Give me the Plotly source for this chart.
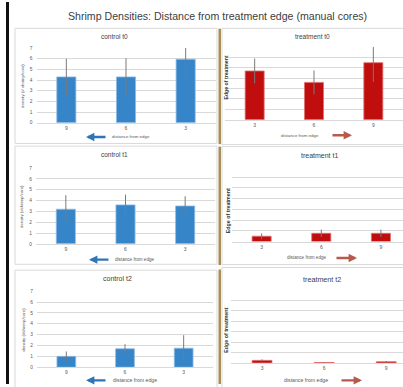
import plotly.graph_objects as go

W, H = 403, 387

# distance categories (cm from the treatment edge)
control_dist = ["9", "6", "3"]
treatment_dist = ["3", "6", "9"]

# mean shrimp density per core and error (+/-)
control_t0 = [4.3, 4.3, 5.95]
control_t0_err = [1.7, 1.75, 1.75]
treatment_t0 = [4.7, 3.6, 5.5]
treatment_t0_err = [1.2, 1.15, 1.85]

control_t1 = [3.2, 3.6, 3.5]
control_t1_err = [1.3, 0.95, 0.9]
treatment_t1 = [0.5, 0.77, 0.77]
treatment_t1_err = [0.27, 0.35, 0.35]

control_t2 = [1.0, 1.7, 1.75]
control_t2_err = [0.45, 0.42, 1.2]
treatment_t2 = [0.25, 0.05, 0.12]
treatment_t2_err = [0.1, 0.03, 0.06]

BLUE = "#3585c8"
BLUE_EDGE = "#8fbbe3"
RED = "#c00d0d"
RED_EDGE = "#e36f6f"
ARROW_BLUE = "#2f75b5"
ARROW_RED = "#b65a4c"
GRID = "#d9d9d9"
TICK = "#595959"
TITLE = "#404040"
FONT = "Liberation Sans"


def px(v):
    return v / W


def py(v):
    return 1 - v / H


panels = [
    dict(title="control t0", cats=control_dist, vals=control_t0, err=control_t0_err, ctrl=True,
         x0=36.5, x1=215.5, ybot=122.3, ytop=46.7, xr=[-0.5, 2.5],
         tpos=(114, 35), tsize=6.5, ytitle="density (# shrimp/core)", ypos=(23, 85), ysize=4.3,
         leg=(86, 107, 136.7), legtext=(131, 136.7), lsize=4.4),
    dict(title="treatment t0", cats=treatment_dist, vals=treatment_t0, err=treatment_t0_err, ctrl=False,
         x0=225, x1=403, ybot=119.3, ytop=45.7, xr=[-0.5, 2.5],
         tpos=(312, 35), tsize=6.5, ytitle="Edge of treatment", ypos=(226.5, 77), ysize=5.2,
         leg=(352, 331, 135), legtext=(299.5, 135), lsize=4.4),
    dict(title="control t1", cats=control_dist, vals=control_t1, err=control_t1_err, ctrl=True,
         x0=36, x1=215, ybot=245, ytop=168.3, xr=[-0.5, 2.5],
         tpos=(114, 155), tsize=6.5, ytitle="density (#shrimp/core)", ypos=(21.7, 207), ysize=4.3,
         leg=(89, 110, 261), legtext=(134.5, 261), lsize=4.6),
    dict(title="treatment t1", cats=treatment_dist, vals=treatment_t1, err=treatment_t1_err, ctrl=False,
         x0=231.8, x1=403, ybot=242.7, ytop=166.7, xr=[-0.5, 2.37],
         tpos=(319, 155.7), tsize=7, ytitle="Edge of treatment", ypos=(228, 212), ysize=5.3,
         leg=(357, 335, 259.3), legtext=(306.5, 259.3), lsize=4.6),
    dict(title="control t2", cats=control_dist, vals=control_t2, err=control_t2_err, ctrl=True,
         x0=37, x1=213, ybot=370, ytop=293, xr=[-0.5, 2.5],
         tpos=(117.5, 280), tsize=7, ytitle="density (#shrimp/core)", ypos=(24, 332), ysize=4.4,
         leg=(86, 107, 383.3), legtext=(134.5, 383.3), lsize=5.2),
    dict(title="treatment t2", cats=treatment_dist, vals=treatment_t2, err=treatment_t2_err, ctrl=False,
         x0=231, x1=403, ybot=365.7, ytop=291.7, xr=[-0.5, 2.27],
         tpos=(322, 280.7), tsize=7.2, ytitle="Edge of treatment", ypos=(226, 332), ysize=5.3,
         leg=(362, 340, 383.3), legtext=(306, 383.3), lsize=5.2),
]

fig = go.Figure()
layout = dict(
    width=W, height=H, margin=dict(l=0, r=0, t=0, b=0),
    paper_bgcolor="white", plot_bgcolor="white", showlegend=False,
    font=dict(family=FONT, color=TICK),
)
annotations = []
shapes = []

for i, p in enumerate(panels, start=1):
    xa = "x" if i == 1 else f"x{i}"
    ya = "y" if i == 1 else f"y{i}"
    fig.add_trace(go.Bar(
        x=p["cats"], y=p["vals"], xaxis=xa, yaxis=ya, width=0.32,
        marker=dict(color=BLUE if p["ctrl"] else RED,
                    line=dict(color=BLUE_EDGE if p["ctrl"] else RED_EDGE, width=0.8)),
        error_y=dict(type="data", array=p["err"], visible=True, color="#7a7a7a",
                     thickness=1, width=0),
    ))
    xkey = "xaxis" if i == 1 else f"xaxis{i}"
    ykey = "yaxis" if i == 1 else f"yaxis{i}"
    layout[xkey] = dict(
        domain=[px(p["x0"]), px(p["x1"])], anchor=ya, type="category",
        categoryorder="array", categoryarray=p["cats"], range=p["xr"],
        showgrid=False, zeroline=False, showline=True, linecolor=GRID, linewidth=1,
        ticks="", tickfont=dict(size=5, color=TICK, family=FONT),
    )
    layout[ykey] = dict(
        domain=[py(p["ybot"]), py(p["ytop"])], anchor=xa, range=[0, 7],
        tickvals=list(range(8)), showgrid=True, gridcolor=GRID, gridwidth=1,
        zeroline=False, showline=False, ticks="",
        showticklabels=p["ctrl"], tickfont=dict(size=4.8, color=TICK, family=FONT),
        ticklabelstandoff=3,
    )
    # panel title
    annotations.append(dict(
        text=p["title"], x=px(p["tpos"][0]), y=py(p["tpos"][1]), xref="paper", yref="paper",
        showarrow=False, xanchor="center", yanchor="middle",
        font=dict(size=p["tsize"], color=TITLE, family=FONT),
    ))
    # vertical axis title
    annotations.append(dict(
        text=p["ytitle"] if p["ctrl"] else f"<b>{p['ytitle']}</b>",
        x=px(p["ypos"][0]), y=py(p["ypos"][1]), xref="paper", yref="paper",
        showarrow=False, textangle=-90, xanchor="center", yanchor="middle",
        font=dict(size=p["ysize"], color=TICK if p["ctrl"] else "#333333", family=FONT),
    ))
    # legend: arrow pointing along the distance direction + label
    head, tail, ly = p["leg"]
    annotations.append(dict(
        text="", x=px(head), y=py(ly), xref="paper", yref="paper",
        showarrow=True, ax=tail - head, ay=0, axref="pixel", ayref="pixel",
        arrowhead=2, arrowsize=0.7, arrowwidth=2.4, standoff=0, startstandoff=0,
        arrowcolor=ARROW_BLUE if p["ctrl"] else ARROW_RED,
    ))
    annotations.append(dict(
        text="distance from edge", x=px(p["legtext"][0]), y=py(p["legtext"][1]),
        xref="paper", yref="paper", showarrow=False, xanchor="center", yanchor="middle",
        font=dict(size=p["lsize"], color=TICK, family=FONT),
    ))

# overall heading
annotations.append(dict(
    text="Shrimp Densities: Distance from treatment edge (manual cores)",
    x=px(217.5), y=py(14.5), xref="paper", yref="paper", showarrow=False,
    xanchor="center", yanchor="middle", font=dict(size=10.6, color=TITLE, family=FONT),
))

# panel frames
frames = [
    (15, 26.7, 217, 143.3), (15, 146, 217, 265.7), (15, 271.7, 217, 392),
    (222, 26.7, 410, 144.5), (222, 146.5, 410, 266), (222, 269, 410, 392),
]
for fx0, fy0, fx1, fy1 in frames:
    shapes.append(dict(type="rect", xref="paper", yref="paper", layer="below",
                       x0=px(fx0), x1=px(fx1), y0=py(fy0), y1=py(fy1),
                       line=dict(color=GRID, width=1), fillcolor="rgba(0,0,0,0)"))

# dark rule on the left edge
shapes.append(dict(type="rect", xref="paper", yref="paper", x0=px(6), x1=px(9),
                   y0=py(0), y1=py(H), line=dict(width=0), fillcolor="#111111"))

# golden divider between control and treatment columns
for gy0, gy1 in [(27, 144), (146.5, 266.5), (271, 387)]:
    shapes.append(dict(type="rect", xref="paper", yref="paper", x0=px(218.5), x1=px(221),
                       y0=py(gy0), y1=py(gy1), line=dict(width=0), fillcolor="#a58e5a"))

layout["annotations"] = annotations
layout["shapes"] = shapes
fig.update_layout(**layout)
fig.write_html("out.html")
